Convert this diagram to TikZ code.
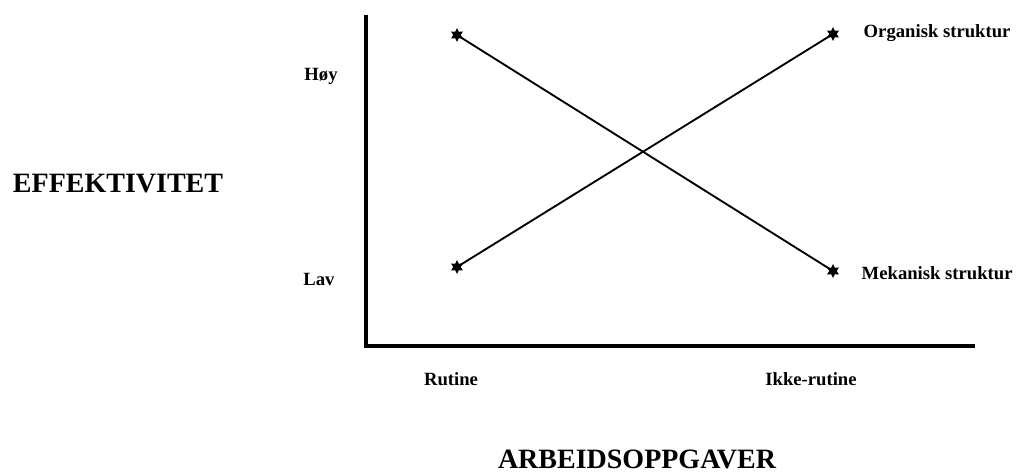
\documentclass[tikz,border=0pt]{standalone}
\usepackage{fontspec}
\setmainfont{Liberation Serif}
\usetikzlibrary{shapes.geometric}

\begin{document}
\begin{tikzpicture}[
        x=0.75pt,
        y=-0.75pt,
        every node/.style={font=\bfseries},
        axistitle/.style={
            font=\fontsize{21}{24}\selectfont\bfseries
        },
        levellabel/.style={
            font=\fontsize{14}{16}\selectfont\bfseries
        },
        datapoint/.style={
            star,
            star points=6,
            star point ratio=1.9,
            fill=black,
            inner sep=0pt,
            minimum size=10.5pt
        },
        axisline/.style={line width=2.4pt},
        curveline/.style={line width=1.4pt}
    ]
        \useasboundingbox (0,0) rectangle (1016,474);

        % Axes: origin at the lower left corner
        \coordinate (origin) at (366,346);
        \coordinate (ytop) at (366,15);
        \coordinate (xend) at (975,346);
        \draw[axisline] (ytop) -- (origin) -- (xend);

        % Axis titles
        \node[axistitle] (ytitle) at (118,184) {EFFEKTIVITET};
        \node[axistitle] (xtitle) at (637,459) {ARBEIDSOPPGAVER};

        % Levels on both axes
        \node[levellabel] (high) at (321,76) {Høy};
        \node[levellabel] (low) at (319,279) {Lav};
        \node[levellabel] (routine) at (451,379) {Rutine};
        \node[levellabel] (nonroutine) at (811,379) {Ikke-rutine};

        % Data points
        \node[datapoint] (rhigh) at (457,35) {};
        \node[datapoint] (rlow) at (457,267) {};
        \node[datapoint] (nhigh) at (833,34) {};
        \node[datapoint] (nlow) at (833,271) {};

        \draw[curveline] (rhigh.center) -- (nlow.center);
        \draw[curveline] (rlow.center) -- (nhigh.center);

        \node[levellabel, anchor=west] (organic) at (859,33)
            {Organisk struktur};
        \node[levellabel, anchor=west] (mechanic) at (857,273)
            {Mekanisk struktur};
    \end{tikzpicture}
\end{document}
